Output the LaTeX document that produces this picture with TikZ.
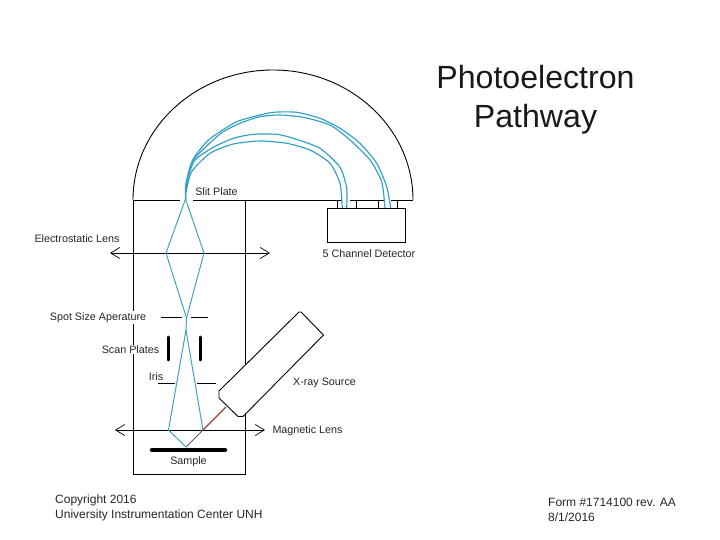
\documentclass[tikz,border=0pt]{standalone}
\usepackage{fontspec}
\setmainfont{Liberation Sans}
\usetikzlibrary{arrows.meta}
\definecolor{beam}{HTML}{2F9FC4}
\definecolor{beamthin}{HTML}{3FA3BE}
\definecolor{xray}{HTML}{A83A3A}
\definecolor{mixray}{HTML}{5F5A80}
\tikzset{
  wall/.style={draw=black,line width=0.9pt},
  plate/.style={draw=black,line width=3pt,line cap=round},
  ray/.style={draw=beamthin,line width=1pt,line join=round},
  orbit/.style={draw=beam,line width=1.15pt,line join=round},
  lensaxis/.style={draw=black,line width=0.9pt,{Straight Barb[length=9pt,width=11pt,line width=0.7pt]}-{Straight Barb[length=9pt,width=11pt,line width=0.7pt]}},
  lbl/.style={font=\fontsize{10.75}{12}\selectfont,inner sep=1pt,text=black!85},
  lblw/.style={lbl,fill=white},
  title/.style={font=\fontsize{32.1}{39}\selectfont,align=center,inner sep=0pt,text=black!90},
  note/.style={font=\fontsize{12}{15}\selectfont,align=left,anchor=west,inner sep=0pt,text=black!85}
}
\begin{document}
\begin{tikzpicture}[x=1pt,y=-1pt]
\useasboundingbox (0,0) rectangle (720,540);
% housing
\draw[wall] (133,200) arc[start angle=180,end angle=360,x radius=140,y radius=130];
\draw[wall] (133,200) -- (180,200);
\draw[wall] (193,200) -- (342,200);
\draw[wall] (350,200) -- (385,200);
\draw[wall] (391,200) -- (413,200);
\draw[wall] (133,200) -- (133,474) -- (245,474) -- (245,200);
% detector
\node[wall,minimum width=78pt,minimum height=34pt,inner sep=0pt] (det) at (366,225) {};
\foreach \x in {337,356,378,397} \draw[wall] (\x,200) -- (\x,208);
% lens axes
\coordinate (eL) at (110,253); \coordinate (eR) at (270,253);
\coordinate (mL) at (115,430); \coordinate (mR) at (265,430);
\draw[lensaxis] (eL) -- (eR);
\draw[lensaxis] (mL) -- (mR);
% rays
\coordinate (slit) at (185.5,199);
\coordinate (dL) at (166,253); \coordinate (dR) at (204,253);
\coordinate (cross) at (186.5,318);
\coordinate (gL) at (168.5,430); \coordinate (gR) at (203,430);
\coordinate (apex) at (186,330);
\coordinate (spot) at (186,447);
\coordinate (src) at (226,407);
\draw[ray] (slit) -- (dL) -- (cross);
\draw[ray] (slit) -- (dR) -- (cross);
\draw[ray] (cross) -- (apex);
\draw[ray] (apex) -- (gL) -- (spot);
\draw[ray] (apex) -- (gR);
\draw[mixray,line width=0.9pt] (spot) -- (gR);
\draw[xray,line width=1.1pt] (gR) -- (src);
% orbits
\draw[orbit] plot[smooth,tension=0.4] coordinates {(185.7,200) (185.7,185) (192.7,160) (206.7,141.7) (220,131.7) (236.7,121.7) (253.3,116.7) (273.3,112.3) (296.7,112.3) (320,118.3) (340,128.3) (360,143.3) (376.7,163.3) (386.7,186.7) (390.7,208)};
\draw[orbit] plot[smooth,tension=0.4] coordinates {(185.7,200) (186.7,181.7) (193.3,160) (220,134) (240,123.3) (260,116.7) (280,115) (303.3,117.3) (330,125) (350,140) (370,160) (381.7,181.7) (385,208)};
\draw[orbit] plot[smooth,tension=0.4] coordinates {(185.7,193.3) (188.3,176.7) (195,160) (213.3,147.3) (233.3,138.3) (253.3,134.3) (276.7,134.3) (293.3,138.3) (320,148.3) (340,167.3) (346.7,188.3) (346.7,208)};
\draw[orbit] plot[smooth,tension=0.4] coordinates {(185.7,193.3) (191.7,171.7) (210,153.3) (233.3,144) (260,141) (286.7,143.3) (310,150) (330,163.3) (340,183.3) (342.3,208)};
% apertures
\draw[wall] (161,317) -- (182,317);
\draw[wall] (191,317) -- (208,317);
\draw[plate] (168,337) -- (168,360);
\draw[plate] (200,337) -- (200,360);
\draw[wall] (158,383) -- (175,383);
\draw[wall] (197,383) -- (216,383);
\draw[draw=black,line width=4.5pt,line cap=round] (152,450) -- (225,450);
% source
\draw[wall,fill=white,line join=round] (219,391) -- (299,312) -- (301,312) -- (323.5,335) -- (243,416.5) -- (238,416.5) -- (219,398) -- cycle;
% labels
\node[lbl] (slitlbl) at (216.5,191.5) {Slit Plate};
\node[lbl] (elbl) at (77,238.5) {Electrostatic Lens};
\node[lbl] (dlbl) at (369,254) {5 Channel Detector};
\node[lblw] (spotlbl) at (98,317.5) {Spot Size Aperature};
\node[lblw] (scanlbl) at (130.5,349.5) {Scan Plates};
\node[lbl] (irislbl) at (156,376.5) {Iris};
\node[lbl] (xlbl) at (324.5,382.5) {X-ray Source};
\node[lbl] (mlbl) at (307.5,430.5) {Magnetic Lens};
\node[lbl] (samplelbl) at (188.5,461.5) {Sample};
\node[title] (ttl) at (535.5,99.5) {Photoelectron\\Pathway};
\node[note] (copy) at (55,508) {Copyright 2016\\University Instrumentation Center UNH};
\node[note] (form) at (548,509.5) {Form \#1714100 rev. AA\\8/1/2016};
\end{tikzpicture}
\end{document}
